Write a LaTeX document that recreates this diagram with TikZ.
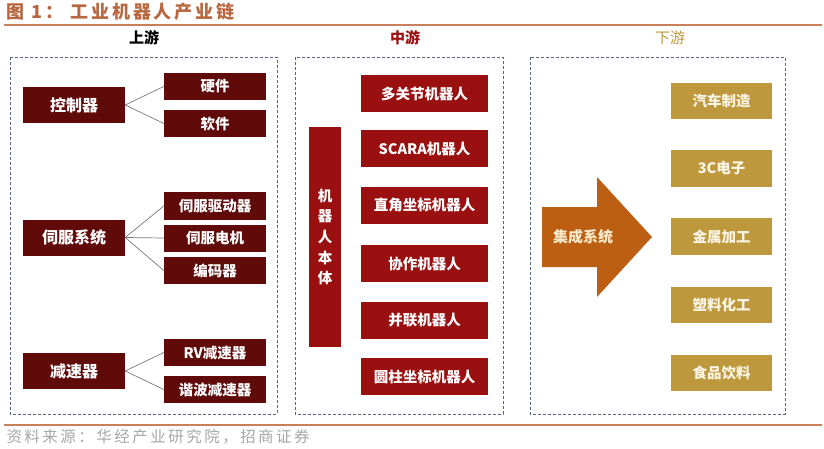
\documentclass[tikz,border=0pt]{standalone}
\usepackage{fontspec}
\setmainfont{Noto Sans CJK SC}
\newfontfamily\spacedfont[LetterSpace=16]{Noto Sans CJK SC}
\definecolor{titlebrown}{RGB}{184,104,64}
\definecolor{rulebrown}{RGB}{200,128,92}
\definecolor{maroonbox}{RGB}{96,10,10}
\definecolor{crimsonbox}{RGB}{154,16,16}
\definecolor{goldbox}{RGB}{190,152,60}
\definecolor{arroworange}{RGB}{188,95,18}
\definecolor{dashblue}{RGB}{90,100,130}
\definecolor{linkgray}{RGB}{120,120,120}

\begin{document}
\begin{tikzpicture}[
    x=1pt, y=-1pt,
    lbox/.style={
        fill=maroonbox, text=white, inner sep=0pt,
        minimum width=102pt, minimum height=36pt,
        font=\fontsize{16}{18}\selectfont\bfseries
    },
    lsub/.style={
        fill=maroonbox, text=white, inner sep=0pt,
        minimum width=102pt, minimum height=27pt,
        font=\fontsize{14.5}{17}\selectfont\bfseries
    },
    mbox/.style={
        fill=crimsonbox, text=white, inner sep=0pt,
        minimum width=127pt, minimum height=37pt,
        font=\fontsize{14.5}{17}\selectfont\bfseries
    },
    gbox/.style={
        fill=goldbox, text={rgb,255:red,252;green,246;blue,230}, inner sep=0pt,
        minimum width=101pt, minimum height=36.5pt,
        font=\fontsize{14.5}{17}\selectfont\bfseries
    },
    panel/.style={draw=dashblue, densely dashed, line width=0.7pt},
    head/.style={font=\fontsize{15}{18}\selectfont\bfseries},
    link/.style={draw=linkgray, line width=0.7pt}
]
\useasboundingbox (0,0) rectangle (824,449);

% 标题
\node[anchor=west, text=titlebrown, font=\fontsize{18}{20}\spacedfont\bfseries]
    (title) at (3,12) {图 1： 工业机器人产业链};
\draw[rulebrown, line width=1.2pt] (4,25) -- (822,25);

% 上游 / 中游 / 下游
\node[head] (up)   at (144,38) {上游};
\node[head, text=crimsonbox] (mid) at (405,38) {中游};
\node[head, text=goldbox, font=\fontsize{15}{18}\selectfont] (down) at (670,38) {下游};

% 虚线框
\draw[panel] (10,57)  rectangle (277,414);
\draw[panel] (295,57) rectangle (503,414);
\draw[panel] (530,57) rectangle (785,414);

% 上游
\node[lbox] (ctrl)  at (74,105)   {控制器};
\node[lsub] (hw)    at (215,86.5) {硬件};
\node[lsub] (sw)    at (215,123.5){软件};

\node[lbox] (servo) at (74,237.5) {伺服系统};
\node[lsub] (drv)   at (215,206)  {伺服驱动器};
\node[lsub] (motor) at (215,238)  {伺服电机};
\node[lsub] (enc)   at (215,270.5){编码器};

\node[lbox] (gear)  at (74,371)   {减速器};
\node[lsub] (rv)    at (215,352.5){RV减速器};
\node[lsub] (harm)  at (215,389.5){谐波减速器};

\foreach \a/\b in {ctrl/hw, ctrl/sw, servo/drv, servo/motor, servo/enc, gear/rv, gear/harm}
    \draw[link] (\a.east) -- (\b.west);

% 中游
\node[fill=crimsonbox, text=white, inner sep=0pt,
      minimum width=32pt, minimum height=220pt, align=center,
      font=\fontsize{14.5}{20.6}\selectfont\bfseries]
    (body) at (325,237) {机\\器\\人\\本\\体};
\node[mbox] (multi) at (424.5,93.5)  {多关节机器人};
\node[mbox] (scara) at (424.5,148.5) {SCARA机器人};
\node[mbox] (cart)  at (424.5,205.5) {直角坐标机器人};
\node[mbox] (cobot) at (424.5,263.5) {协作机器人};
\node[mbox] (para)  at (424.5,320)   {并联机器人};
\node[mbox] (cyl)   at (424.5,376.5) {圆柱坐标机器人};

% 下游
\fill[arroworange] (542,207) -- (597,207) -- (597,177) -- (652,237)
    -- (597,297) -- (597,267) -- (542,267) -- cycle;
\node[text={rgb,255:red,248;green,234;blue,205}, font=\fontsize{15}{18}\selectfont\bfseries]
    (integ) at (583,237) {集成系统};

\node[gbox] (auto)  at (721.5,101)   {汽车制造};
\node[gbox] (elec)  at (721.5,168.5) {3C电子};
\node[gbox] (metal) at (721.5,236.5) {金属加工};
\node[gbox] (plast) at (721.5,305)   {塑料化工};
\node[gbox] (food)  at (721.5,373)   {食品饮料};

% 资料来源
\draw[rulebrown, line width=1.2pt] (4,425) -- (822,425);
\node[anchor=west, text=gray!70, font=\fontsize{15.5}{17}\spacedfont]
    (src) at (3,437) {资料来源：华经产业研究院，招商证券};

\end{tikzpicture}
\end{document}
